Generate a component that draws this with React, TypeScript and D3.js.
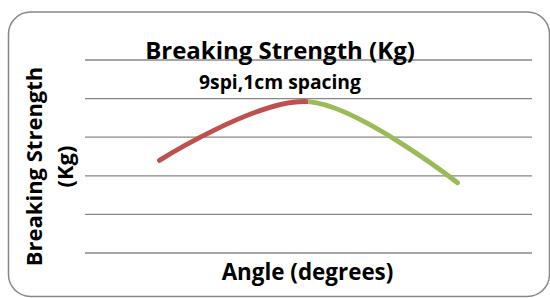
import React from 'react';
import * as d3 from 'd3';

// chart data
const angles = ['0', '45', '90'];
const strength = [12.0, 19.6, 9.1];
const gridTicks = [0, 5, 10, 15, 20, 25];

const W = 550;
const H = 298;
const margin = { top: 60, right: 18, bottom: 45, left: 85 };
const FONT = "'Open Sans', sans-serif";

export default function App() {
  const innerRight = W - margin.right;
  const innerBottom = H - margin.bottom;

  const x = d3.scalePoint<string>().domain(angles).range([margin.left, innerRight]).padding(0.5);
  const y = d3.scaleLinear().domain([0, 25]).range([innerBottom, margin.top]);

  const line = d3
    .line<number>()
    .x((_, i) => x(angles[i])!)
    .y((d) => y(d))
    .curve(d3.curveCardinal);
  const path = line(strength) || '';
  const splitX = x(angles[1])!;

  return (
    <svg
      width={W}
      height={H}
      style={{ position: 'absolute', left: 0, top: 0, background: '#fff' }}
      fontFamily={FONT}
    >
      <defs>
        <clipPath id="leftPart">
          <rect x={0} y={0} width={splitX} height={H} />
        </clipPath>
        <clipPath id="rightPart">
          <rect x={splitX} y={0} width={W - splitX} height={H} />
        </clipPath>
      </defs>

      <rect x={8.5} y={12} width={541} height={284.5} rx={22} fill="#fff" stroke="#878787" strokeWidth={1.5} />

      {/* gridlines */}
      {gridTicks.map((t) => (
        <line key={t} x1={margin.left} x2={innerRight} y1={y(t)} y2={y(t)} stroke="#878787" strokeWidth={1.3} />
      ))}

      {/* series */}
      <path d={path} fill="none" stroke="#C0504D" strokeWidth={4.8} strokeLinecap="round" clipPath="url(#leftPart)" />
      <path d={path} fill="none" stroke="#9BBB59" strokeWidth={4.8} strokeLinecap="round" clipPath="url(#rightPart)" />

      {/* titles */}
      <text x={280} y={59} textAnchor="middle" fontWeight="bold" fontSize={24} fill="#000">
        Breaking Strength (Kg)
      </text>
      <text x={280} y={89} textAnchor="middle" fontWeight="bold" fontSize={19.3} fill="#000">
        9spi,1cm spacing
      </text>
      <text x={307.5} y={280} textAnchor="middle" fontWeight="bold" fontSize={22.4} fill="#000">
        Angle (degrees)
      </text>
      <g transform="translate(0,166.5) rotate(-90)">
        <text x={0} y={42} textAnchor="middle" fontWeight="bold" fontSize={22} fill="#000">
          Breaking Strength
        </text>
        <text x={0} y={73} textAnchor="middle" fontWeight="bold" fontSize={22} fill="#000">
          (Kg)
        </text>
      </g>
    </svg>
  );
}
